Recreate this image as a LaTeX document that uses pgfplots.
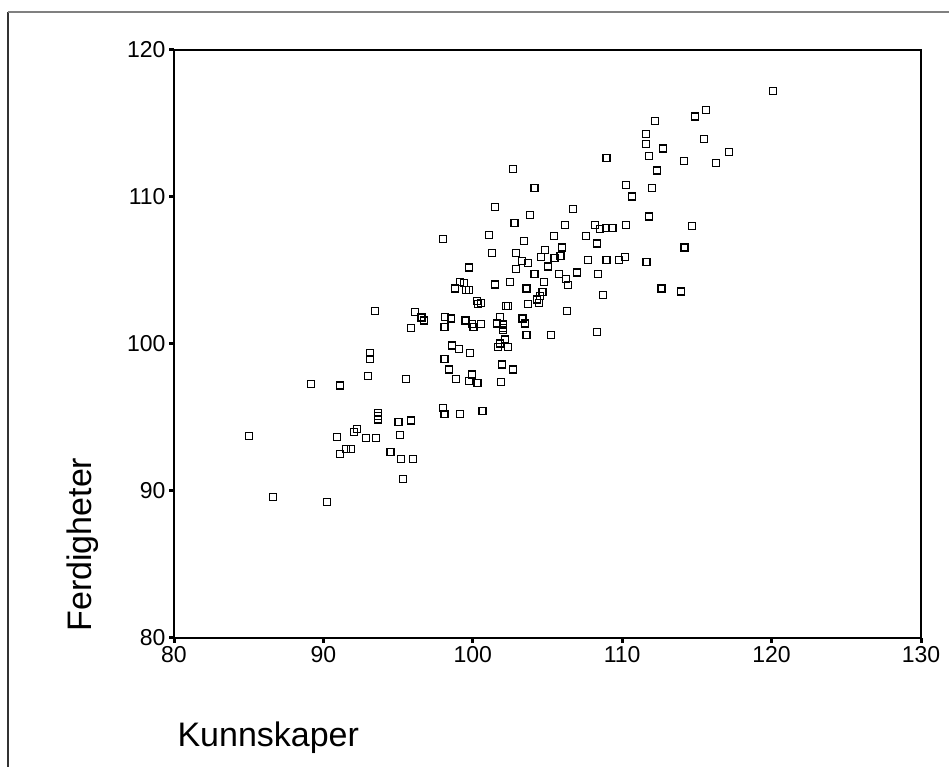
\documentclass[border=0pt]{standalone}
\usepackage{pgfplots}
\pgfplotsset{compat=1.18}
\usepackage{pgfplotstable}
\usepackage{fontspec}
\setmainfont{Liberation Sans}

% Kunnskaper (x) against Ferdigheter (y)
\pgfplotstableread{
x y
85.02 93.73
86.64 89.60
90.24 89.27
89.19 97.27
91.09 97.17
90.89 93.70
91.09 92.53
91.50 92.83
91.86 92.83
92.06 94.03
92.23 94.23
92.87 93.60
93.52 93.60
93.00 97.83
93.12 99.00
93.12 99.37
93.44 102.23
93.64 95.33
93.64 95.10
93.64 94.87
94.49 92.63
95.02 94.70
95.14 93.83
95.22 92.20
95.34 90.80
95.55 97.60
95.87 94.80
95.99 92.20
95.87 101.07
96.11 102.17
96.56 101.80
96.72 101.60
97.98 107.13
97.98 95.67
98.10 95.23
98.10 99.00
98.14 101.83
98.10 101.17
98.38 98.27
98.54 101.73
98.62 99.90
98.83 103.77
98.87 97.60
99.07 99.67
99.15 95.23
99.15 104.20
99.39 104.13
99.51 101.60
99.55 103.67
99.72 105.20
99.76 103.67
99.72 97.50
99.80 99.37
99.92 97.93
99.92 101.37
100.04 101.17
100.28 102.93
100.32 97.37
100.36 102.70
100.57 102.80
100.57 101.37
100.65 95.43
101.09 107.43
101.30 106.17
101.46 109.33
101.46 104.03
101.50 104.10
101.62 101.40
101.66 99.77
101.82 101.83
101.90 97.40
101.98 98.60
102.02 101.33
102.02 101.10
102.02 100.93
101.82 100.03
102.16 100.30
102.23 102.60
102.35 102.60
102.35 99.77
102.47 104.20
102.67 98.27
102.67 111.90
102.79 108.23
102.87 106.20
102.87 105.10
103.28 105.67
103.32 101.73
103.44 107.00
103.52 101.40
103.60 103.77
103.72 105.53
103.72 102.70
103.60 100.63
103.85 108.77
104.13 110.60
104.13 104.77
104.29 103.03
104.45 102.80
104.49 103.27
104.66 103.53
104.57 105.93
104.78 104.20
104.82 106.40
105.02 105.27
105.22 100.63
105.43 107.33
105.47 105.83
105.79 104.77
105.87 105.97
105.99 106.57
106.15 108.10
106.23 104.43
106.36 104.00
106.28 102.23
106.68 109.20
107.00 104.87
107.57 107.33
107.69 105.73
108.18 108.10
108.30 106.83
108.38 104.77
108.50 107.80
108.30 100.83
108.70 103.33
108.91 107.90
108.95 112.67
108.95 105.73
109.35 107.90
109.76 105.73
110.20 105.93
110.24 110.83
110.24 108.10
110.65 110.03
111.58 114.27
111.58 113.60
111.62 105.60
111.78 112.77
111.82 108.67
111.98 110.60
112.19 115.17
112.35 111.80
112.63 103.77
112.75 113.30
113.93 103.57
114.13 112.43
114.17 106.57
114.66 108.00
114.86 115.47
115.47 113.97
115.63 115.90
116.28 112.33
117.13 113.07
120.08 117.20
}\scores

\begin{document}
\begin{tikzpicture}
\useasboundingbox (0pt,0pt) rectangle (949pt,767pt);
% outer frame
\draw[line width=1.3pt, black!80] (8pt,0pt) -- (8pt,755pt);
\draw[line width=2pt, black!50] (8pt,755pt) -- (949pt,755pt);
\begin{axis}[
  at={(174pt,129pt)}, anchor=south west,
  scale only axis, width=747pt, height=588pt,
  xmin=80, xmax=130, ymin=80, ymax=120,
  xtick={80,90,...,130}, ytick={80,90,...,120},
  tick pos=left, tick align=outside,
  major tick length=5pt,
  every tick/.style={black, line width=3pt},
  axis line style={line width=2pt, black},
  /pgf/number format/assume math mode=true,
  ticklabel style={font=\fontsize{23}{27}\selectfont},
  label style={font=\fontsize{34}{40}\selectfont},
  xlabel={Kunnskaper},
  ylabel={Ferdigheter},
  xlabel style={at={(axis description cs:0,-0.1849)}, anchor=base west},
  ylabel style={at={(axis description cs:-0.1098,0.005)}, anchor=base west},
  clip=false,
]
\addplot[only marks, mark=square, mark size=3.5pt,
  mark options={line width=1.2pt, black}] table[x=x, y=y] {\scores};
\end{axis}
\end{tikzpicture}
\end{document}
